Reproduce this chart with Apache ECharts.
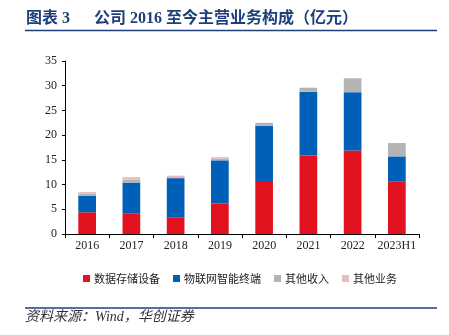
<!DOCTYPE html>
<html><head><meta charset="utf-8">
<script src="https://cdn.jsdelivr.net/npm/echarts@6/dist/echarts.min.js"></script>
<style>html,body{margin:0;padding:0;background:#fff}#c{width:449px;height:335px}</style>
</head><body><div id="c"></div>
<script>
const categories = ['2016','2017','2018','2019','2020','2021','2022','2023H1'];
const storage = [4.4, 4.2, 3.4, 6.2, 10.7, 15.9, 16.9, 10.6];
const iot = [3.3, 6.2, 7.9, 8.7, 11.2, 12.9, 11.8, 5.1];
const otherIncome = [0.5, 0.6, 0.2, 0.3, 0.6, 0.8, 2.8, 2.7];
const otherBiz = [0.3, 0.5, 0.3, 0.35, 0, 0, 0, 0];
const seriesNames = ['数据存储设备','物联网智能终端','其他收入','其他业务'];
const yTicks = [0,5,10,15,20,25,30,35];

const colors = ['#E3121F','#0060B8','#B4B4B4','#E8BDBD'];
const chart = echarts.init(document.getElementById('c'), null, {renderer:'canvas'});
const serif = '"Liberation Serif","Times New Roman",serif';
const cjk = '"Noto Sans CJK SC",sans-serif';
const titleFont = 'bold 16px "Liberation Serif","Noto Sans CJK SC",serif';
const mk = (name, data, i) => ({
  name, type:'bar', stack:'a', data, barWidth:'40%',
  itemStyle:{color:colors[i]}
});
chart.setOption({
  animation:false,
  graphic:[
    {type:'text', left:26, top:11, style:{text:'图表 3', font:titleFont, fill:'#1F3F7A'}},
    {type:'text', left:94, top:11, style:{text:'公司 2016 至今主营业务构成（亿元）', font:titleFont, fill:'#1F3F7A'}},
    {type:'line', shape:{x1:25,y1:30.5,x2:437,y2:30.5}, style:{stroke:'#1F3F7A', lineWidth:1.5}},
    {type:'line', shape:{x1:25,y1:308,x2:437,y2:308}, style:{stroke:'#1F3F7A', lineWidth:1.5}},
    {type:'text', left:25, top:310, style:{text:'资料来源：Wind，华创证券', font:'italic 14px "Liberation Serif","Noto Sans CJK SC",serif', fill:'#333'}}
  ],
  legend:{
    data:seriesNames, left:78, top:268,
    itemWidth:7, itemHeight:7, itemGap:13,
    icon:'rect',
    textStyle:{fontFamily:cjk, fontSize:11, color:'#222', padding:[0,0,0,-1]}
  },
  grid:{left:65, right:30, top:61, bottom:101},
  xAxis:{
    type:'category', data:categories,
    axisLine:{lineStyle:{color:'#000'}},
    axisTick:{show:true, length:4, lineStyle:{color:'#000'}},
    axisLabel:{interval:0, fontFamily:serif, fontSize:12, color:'#222', margin:6}
  },
  yAxis:{
    type:'value', min:yTicks[0], max:yTicks[yTicks.length-1], interval:5,
    axisLine:{show:true, lineStyle:{color:'#000'}},
    axisTick:{show:true, length:3, lineStyle:{color:'#000'}},
    splitLine:{show:false},
    axisLabel:{fontFamily:serif, fontSize:12, color:'#222', margin:8}
  },
  series:[mk(seriesNames[0],storage,0), mk(seriesNames[1],iot,1), mk(seriesNames[2],otherIncome,2), mk(seriesNames[3],otherBiz,3)]
});
</script></body></html>
